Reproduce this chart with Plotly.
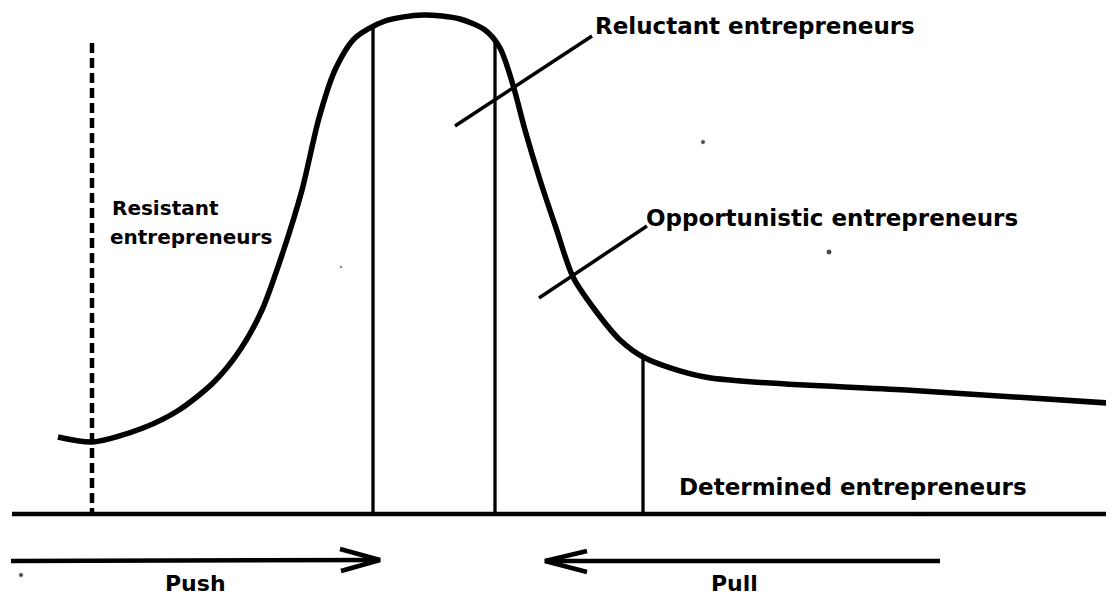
import plotly.graph_objects as go

# Main curve (diagram units: x to the right, y downward as in the picture)
curve_x = [58, 93, 143, 179, 214, 240, 262, 283, 302, 319, 335, 355, 385, 423, 460, 485, 500, 513, 525, 540, 556, 573, 595, 620, 645, 705, 906, 1108]
curve_y = [437, 442, 428, 410, 382, 350, 310, 252, 190, 118, 70, 38, 21, 15, 19, 30, 48, 85, 130, 180, 228, 277, 310, 340, 358, 377, 390, 403]

baseline_y = 514
baseline_x = [12, 1108]

dashed_x = 92
dashed_top = 43

divider_x = [373, 495, 643]
divider_top = [25, 42, 358]

# leader lines ([x0, x1], [y0, y1])
reluctant_leader = ([455, 592], [126, 36])
opportunistic_leader = ([539, 647], [298, 226])

# (text, x, y, size, anchor)
labels = [
    ("Reluctant entrepreneurs", 594, 26, 23, "left"),
    ("Opportunistic entrepreneurs", 645, 218, 23, "left"),
    ("Resistant", 111, 208, 20, "left"),
    ("entrepreneurs", 109, 237, 20, "left"),
    ("Determined entrepreneurs", 678, 487, 23, "left"),
]
bottom_labels = [("Push", 195), ("Pull", 734)]

push_shaft = ([11, 380], [561, 560])
push_head = ([340, 380, 341], [549, 560, 571])
pull_shaft = ([940, 545], [561, 561])
pull_head = ([587, 545, 587], [551, 561, 572])

specks_x = [703, 829, 21, 341]
specks_y = [142, 252, 575, 267]
specks_size = [5, 6, 5, 3]

PAD = 8  # browser body margin
W, H = 1114, 605

fig = go.Figure()

def line(xs, ys, w, dash="solid", smooth=False):
    fig.add_trace(go.Scatter(x=xs, y=ys, mode="lines",
                             line=dict(color="black", width=w, dash=dash,
                                       shape="spline" if smooth else "linear",
                                       smoothing=0.8 if smooth else None),
                             hoverinfo="skip", showlegend=False))

line(curve_x, curve_y, 5.5, smooth=True)
line(baseline_x, [baseline_y, baseline_y], 4.5)
line([dashed_x, dashed_x], [dashed_top, baseline_y], 4.5, dash="10px,5px")
for xv, top in zip(divider_x, divider_top):
    line([xv, xv], [top, baseline_y], 3.3)
line(*reluctant_leader, 3.5)
line(*opportunistic_leader, 3.5)
line(*push_shaft, 4.5)
line(*push_head, 4.5)
line(*pull_shaft, 4.5)
line(*pull_head, 4.5)

fig.add_trace(go.Scatter(x=specks_x, y=specks_y, mode="markers",
                         marker=dict(color="black", size=specks_size), hoverinfo="skip", showlegend=False))

for txt, x, y, s, anchor in labels:
    fig.add_annotation(x=x, y=y, text="<b>" + txt + "</b>", showarrow=False,
                       xanchor=anchor, yanchor="middle", borderpad=0,
                       font=dict(family="DejaVu Sans", size=s, color="black"))

for txt, x in bottom_labels:
    fig.add_annotation(x=x, y=0, yref="paper", text="<b>" + txt + "</b>", showarrow=False,
                       xanchor="center", yanchor="bottom", borderpad=0,
                       font=dict(family="DejaVu Sans", size=22, color="black"))

fig.update_xaxes(range=[PAD, W - PAD], visible=False, fixedrange=True)
fig.update_yaxes(range=[H - PAD, PAD], visible=False, fixedrange=True)
fig.update_layout(width=W - 2 * PAD, height=H - 2 * PAD, margin=dict(l=0, r=0, t=0, b=0),
                  plot_bgcolor="white", paper_bgcolor="white")

fig.write_html("out.html")
